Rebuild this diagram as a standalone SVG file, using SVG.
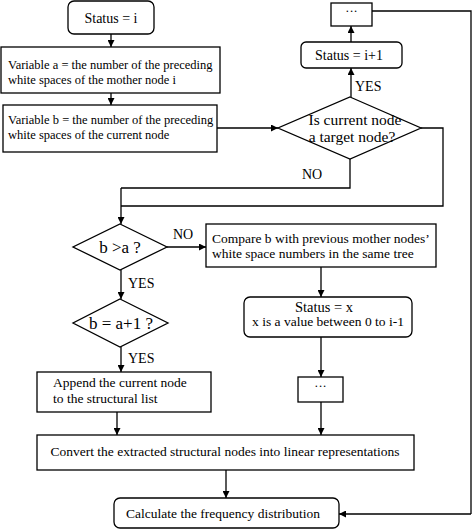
<svg xmlns="http://www.w3.org/2000/svg" width="474" height="530" viewBox="0 0 474 530">
<defs>
<marker id="ah" viewBox="0 0 10 10" refX="10" refY="5" markerWidth="7" markerHeight="7" markerUnits="userSpaceOnUse" orient="auto">
<path d="M0,0 L10,5 L0,10 z" fill="#000"/>
</marker>
<style>
.box{fill:#fff;stroke:#000;stroke-width:1.3}
.ln{fill:none;stroke:#000;stroke-width:1.3}
.ar{fill:none;stroke:#000;stroke-width:1.3;marker-end:url(#ah)}
text{font-family:"Liberation Serif","Times New Roman",serif;fill:#000}
.t{font-size:12.5px}
.u{font-size:13.5px}
.s{font-size:14px}
.d{font-size:15.5px}
.q{font-size:17px}
.m{text-anchor:middle}
.lb{font-size:14px}
</style>
</defs>
<rect width="474" height="530" fill="#fff"/>
<g id="connectors">
<path class="ar" d="M111,34 V47"/>
<path class="ar" d="M111,93 V105"/>
<path class="ar" d="M217,128 H278"/>
<path class="ar" d="M351,97 V68"/>
<path class="ar" d="M351,42 V26"/>
<path class="ln" d="M372,11 H471 V514"/>
<path class="ar" d="M471,514 H339"/>
<path class="ln" d="M350,159 V188 H121"/>
<path class="ln" d="M421,128 H443 V206 H121"/>
<path class="ar" d="M121,188 V224"/>
<path class="ar" d="M167,247 H206"/>
<path class="ar" d="M121,270 V299"/>
<path class="ar" d="M121,347 V372"/>
<path class="ar" d="M321,267 V297"/>
<path class="ar" d="M321,337 V377"/>
<path class="ar" d="M117,412 V435"/>
<path class="ar" d="M321,402 V435"/>
<path class="ar" d="M226,470 V498"/>
<text class="lb" x="355" y="91">YES</text>
<text class="lb" x="302" y="179">NO</text>
<text class="lb" x="173" y="239">NO</text>
<text class="lb" x="128" y="288">YES</text>
<text class="lb" x="128" y="363">YES</text>
</g>
<g id="status-i">
<rect class="box" x="68" y="1" width="86" height="33" rx="6"/>
<text class="s m" x="111" y="23">Status = i</text>
</g>
<g id="var-a">
<rect class="box" x="1" y="47" width="219" height="46"/>
<text class="t" x="8" y="69">Variable a = the number of the preceding</text>
<text class="t" x="8" y="84">white spaces of the mother node i</text>
</g>
<g id="var-b">
<rect class="box" x="3" y="105" width="214" height="47"/>
<text class="t" x="8" y="124">Variable b = the number of the preceding</text>
<text class="t" x="8" y="139">white spaces of the current node</text>
</g>
<g id="target">
<path class="box" d="M350,97 L421,128 L350,159 L278,128 Z"/>
<text class="d m" x="355" y="125">Is current node</text>
<text class="d m" x="352" y="142">a target node?</text>
</g>
<g id="status-i1">
<rect class="box" x="301" y="42" width="101" height="26" rx="5"/>
<text class="s m" x="349" y="60">Status = i+1</text>
</g>
<g id="dots-top">
<rect class="box" x="331" y="3" width="41" height="23"/>
<text class="t m" x="351.5" y="15">···</text>
</g>
<g id="b-gt-a">
<path class="box" d="M120,224 L167,247 L120,270 L73,247 Z"/>
<text class="q m" x="120" y="253">b &gt;a ?</text>
</g>
<g id="b-eq">
<path class="box" d="M120,299 L168,323 L120,347 L73,323 Z"/>
<text class="q m" x="121" y="329">b = a+1 ?</text>
</g>
<g id="compare">
<rect class="box" x="206" y="224" width="230" height="43"/>
<text class="u" x="212" y="243">Compare b with previous mother nodes’</text>
<text class="u" x="212" y="258">white space numbers in the same tree</text>
</g>
<g id="status-x">
<rect class="box" x="244" y="297" width="168" height="40" rx="6"/>
<text class="m" style="font-size:14.5px" x="324" y="312">Status = x</text>
<text class="u m" x="328" y="326">x is a value between 0 to i-1</text>
</g>
<g id="append">
<rect class="box" x="37" y="372" width="174" height="40"/>
<text class="u" x="53" y="387">Append the current node</text>
<text class="u" x="53" y="403">to the structural list</text>
</g>
<g id="dots-mid">
<rect class="box" x="298" y="377" width="45" height="25"/>
<text class="t m" x="320.5" y="390">···</text>
</g>
<g id="convert">
<rect class="box" x="37" y="435" width="377" height="35"/>
<text class="u m" x="225" y="456">Convert the extracted structural nodes into linear representations</text>
</g>
<g id="calc">
<rect class="box" x="114" y="498" width="225" height="30" rx="6"/>
<text class="u m" x="223" y="518">Calculate the frequency distribution</text>
</g>
</svg>
